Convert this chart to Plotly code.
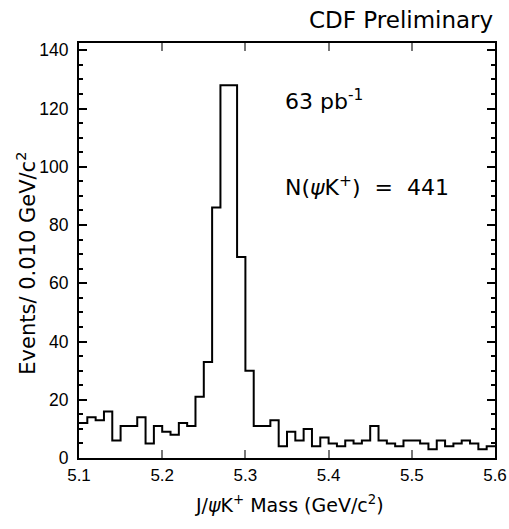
import plotly.graph_objects as go

bin_low = 5.10
bin_width = 0.010
counts = [12, 14, 13, 16, 6, 11, 11, 14, 5, 11,
          9, 8, 12, 11, 21, 33, 86, 128, 128, 69,
          30, 11, 11, 13, 4, 9, 6, 10, 4, 7,
          5, 4, 6, 5, 6, 11, 6, 5, 4, 6,
          6, 5, 3, 6, 4, 5, 6, 5, 3, 4]
x_ticks = [5.1, 5.2, 5.3, 5.4, 5.5, 5.6]
y_ticks = [0, 20, 40, 60, 80, 100, 120, 140]

edges = [round(bin_low + i * bin_width, 3) for i in range(len(counts) + 1)]
ys = counts + [counts[-1]]

TICKFONT = "Liberation Sans"
TEXTFONT = "DejaVu Sans"

fig = go.Figure()
fig.add_trace(go.Scatter(x=edges, y=ys, mode="lines", line=dict(shape="hv", color="black", width=2),
                         hoverinfo="skip", showlegend=False, cliponaxis=False))

fig.update_layout(
    width=509, height=529,
    margin=dict(l=79, r=14, t=43, b=71, autoexpand=False),
    paper_bgcolor="white", plot_bgcolor="white",
    font=dict(family=TICKFONT, color="black", size=17),
    showlegend=False,
)
fig.update_xaxes(
    range=[5.1, 5.6], tickvals=x_ticks, ticktext=[f"{v:.1f}" for v in x_ticks],
    ticks="inside", ticklen=8, tickcolor="#777", tickwidth=1.5,
    showline=True, linecolor="black", linewidth=2, mirror="allticks",
    showgrid=False, zeroline=False, automargin=False, ticklabelstandoff=1,
    tickfont=dict(size=17, family=TICKFONT),
)
fig.update_yaxes(
    range=[0, 142.5], tickvals=y_ticks,
    ticks="inside", ticklen=8, tickcolor="black", tickwidth=1.5,
    minor=dict(dtick=5, tick0=0, ticks="inside", ticklen=4, tickcolor="black", tickwidth=1.5),
    showline=True, linecolor="black", linewidth=2, mirror="allticks",
    showgrid=False, zeroline=False, automargin=False, ticklabelstandoff=5,
    tickfont=dict(size=17.5, family=TICKFONT),
)

# axis titles
fig.add_annotation(text="J/<i>ψ</i>K<sup>+</sup> Mass (GeV/c<sup>2</sup>)", xref="paper", yref="paper",
                   x=0.505, y=-0.112, xanchor="center", yanchor="middle", showarrow=False,
                   font=dict(size=19, family=TEXTFONT))
fig.add_annotation(text="Events/ 0.010 GeV/c<sup>2</sup>", xref="paper", yref="paper",
                   x=-0.128, y=0.47, xanchor="center", yanchor="middle", textangle=-90,
                   showarrow=False, font=dict(size=21, family=TEXTFONT))

fig.add_annotation(text="CDF Preliminary", xref="paper", yref="paper", x=1.0, y=1.0,
                   xanchor="right", yanchor="bottom", yshift=8, showarrow=False,
                   font=dict(size=23, family=TEXTFONT))
fig.add_annotation(text="63 pb<sup>-1</sup>", xref="paper", yref="paper", x=0.49, y=0.862,
                   xanchor="left", yanchor="middle", showarrow=False,
                   font=dict(size=22, family=TEXTFONT))
fig.add_annotation(text="N(<i>ψ</i>K<sup>+</sup>)\u00a0\u00a0=\u00a0\u00a0441", xref="paper", yref="paper",
                   x=0.49, y=0.655, xanchor="left", yanchor="middle", showarrow=False,
                   font=dict(size=22, family=TEXTFONT))

fig.write_html("out.html", config={"displayModeBar": False},
               post_script="document.body.style.margin='0px';document.body.style.padding='0px';")
